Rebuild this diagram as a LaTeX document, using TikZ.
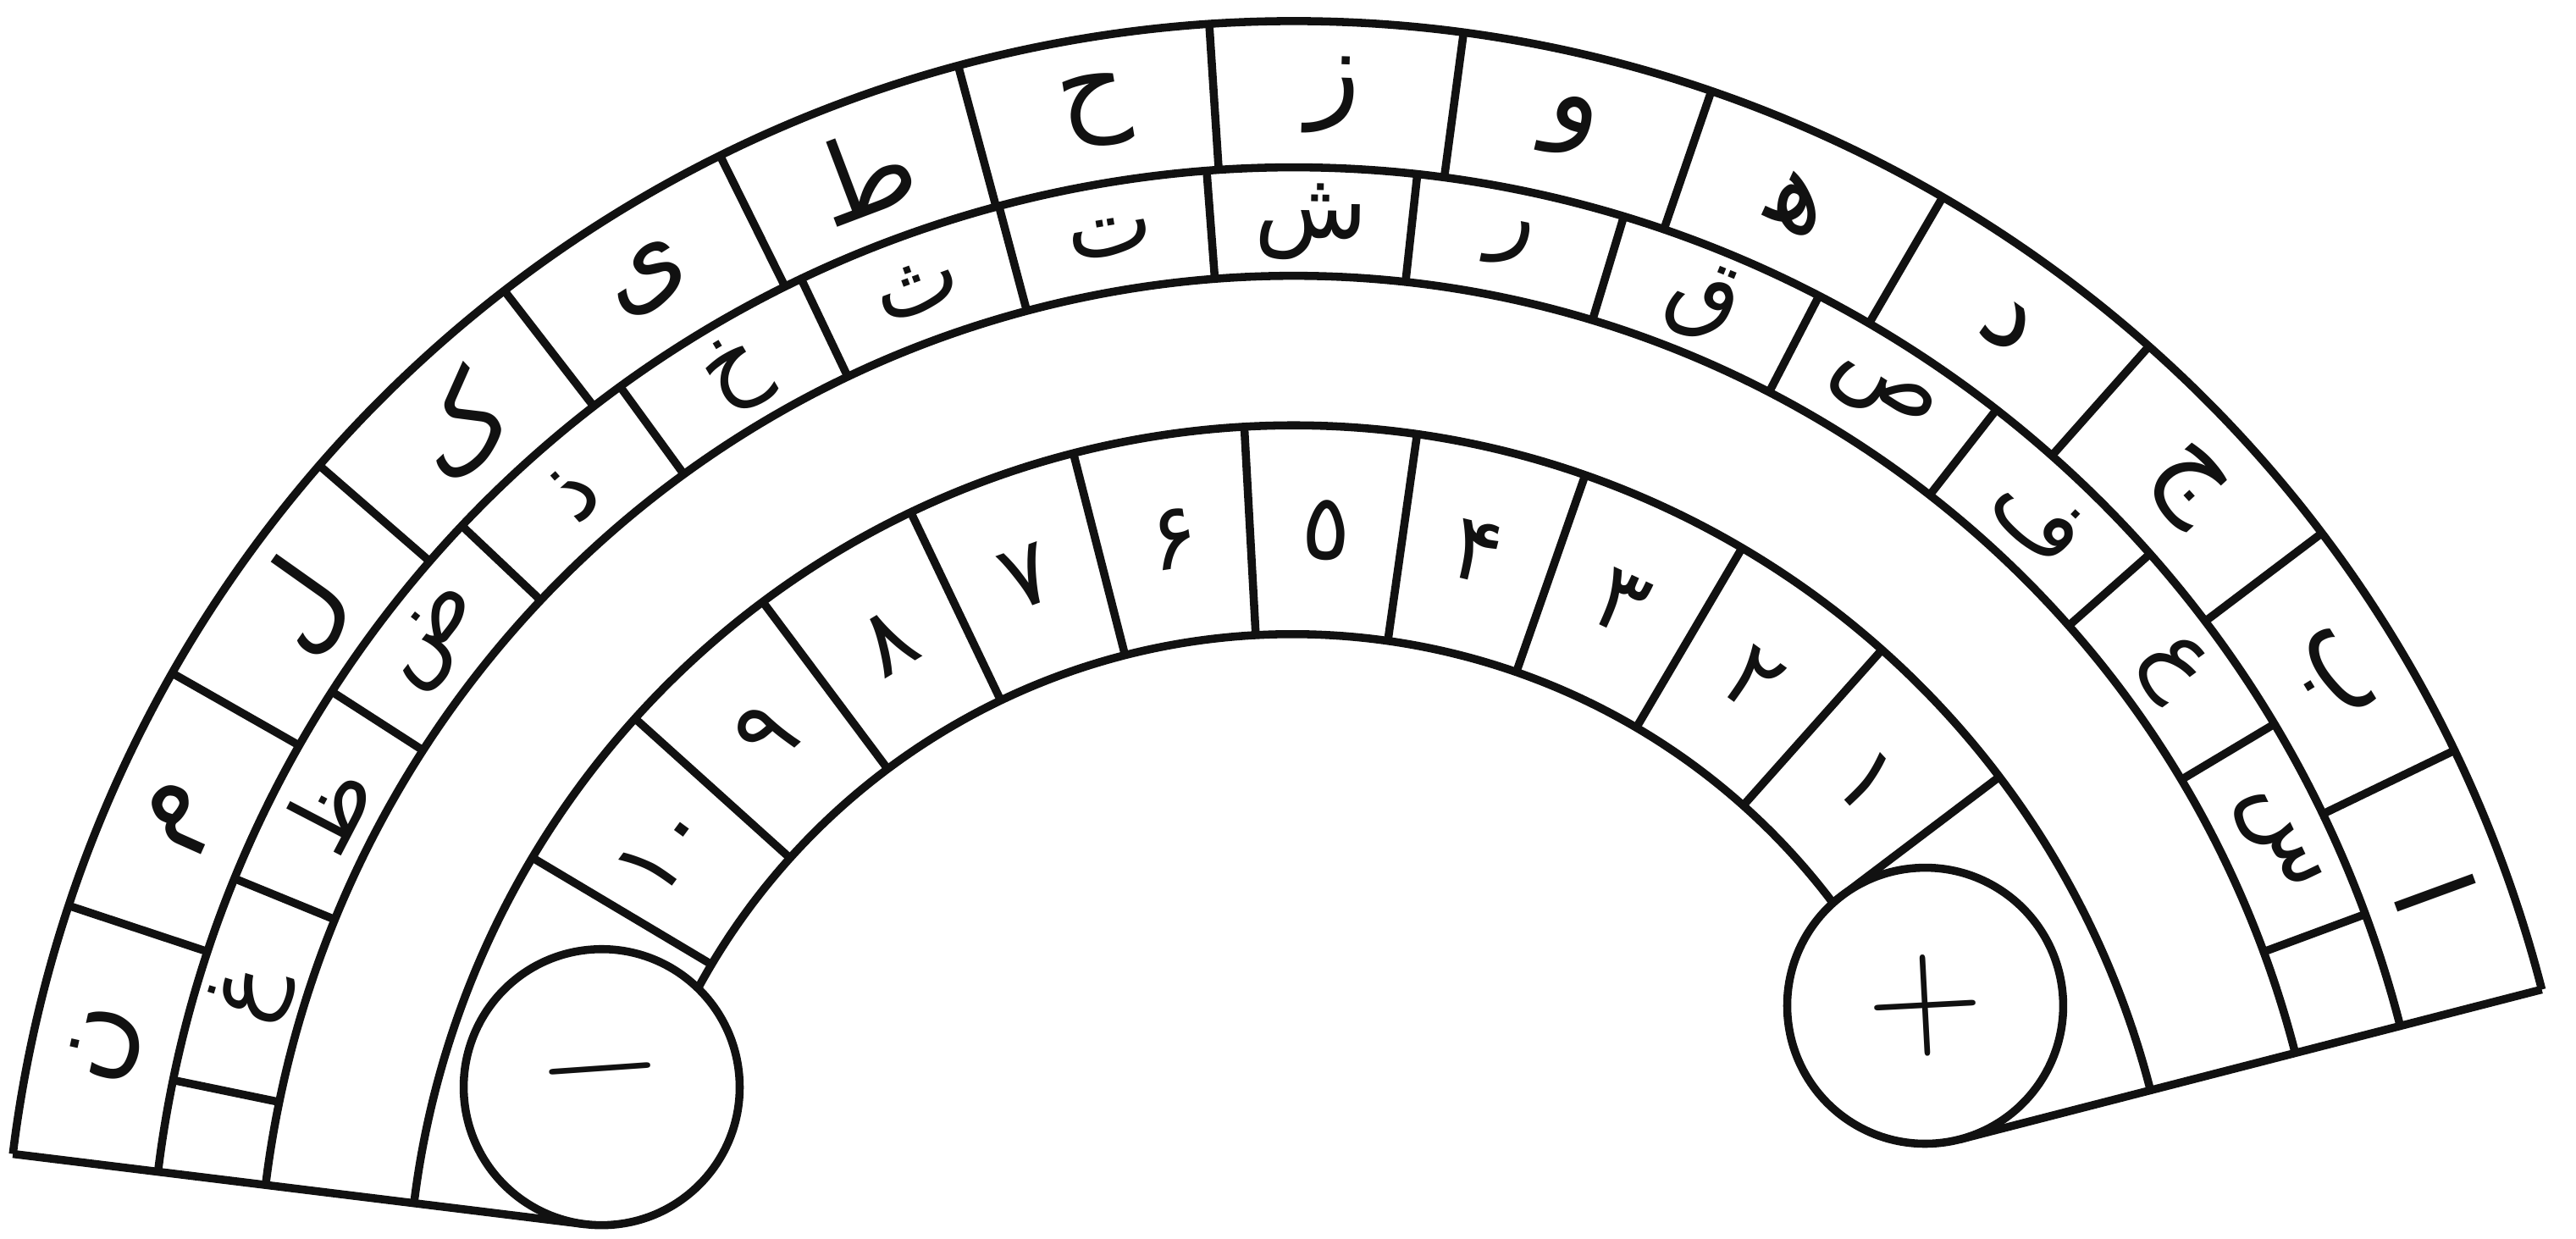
\documentclass[tikz,border=0pt]{standalone}
\usepackage{fontspec}
\usepackage{tikz}
\usetikzlibrary{positioning}
\TeXXeTstate=1
\newfontfamily\arabicfont[Script=Arabic]{DejaVu Sans}
\definecolor{ink}{HTML}{111111}
\newcommand{\harf}[1]{{\arabicfont\beginR #1\endR}}

\begin{document}
\begin{tikzpicture}[x=1cm,y=1cm,color=ink,line width=1.4pt,
  harfnode/.style={font=\fontsize{19}{22}\selectfont,inner sep=0pt},
  harfsmall/.style={font=\fontsize{16}{19}\selectfont,inner sep=0pt},
  adadnode/.style={font=\fontsize{16}{19}\selectfont,inner sep=0pt},
  signdisc/.style={circle,draw=ink,fill=white,line width=1.4pt,
    minimum size=1.68cm,inner sep=0pt,font=\fontsize{28}{30}\selectfont}]
\path[use as bounding box] (0,0) rectangle (15.68,7.54);
\begin{scope}[shift={(7.87,-0.44)}]
% Rings share one centre; the board runs from 14.44 to 173 degrees.
% Radii: letters 7.85--6.96 and 6.96--6.30, numbers 5.39--4.12.
\foreach \r in {7.85,6.96,6.30,5.39}
  \draw (14.44:\r) arc[start angle=14.44,end angle=173,radius=\r];
\draw (35:4.12) arc[start angle=35,end angle=154,radius=4.12];
\draw (173:7.85) -- (173:4.342);
\draw (14.44:7.85) -- (14.44:4.191);

% Outer ring: 14 cells of the abjad order, read from the right.
\foreach \k in {1,...,13}
  \draw ({14.44+\k*11.326}:6.96) -- ({14.44+\k*11.326}:7.85);
\foreach \h [count=\k from 0] in {ا,ب,ج,د,ه^^^^200d,و,ز,ح,ط,ی,ک,ل,م,ن}
  \node[harfnode,rotate={14.44+(\k+0.5)*11.326-90}] (kharij\k)
    at ({14.44+(\k+0.5)*11.326}:7.405) {\harf{\h}};

% Inner ring: the next 14 letters, with an empty cell at either end.
\foreach \k in {0,...,14}
  \draw ({20.31+\k*10.574}:6.30) -- ({20.31+\k*10.574}:6.96);
\foreach \h [count=\k from 0] in {س,ع,ف,ص,ق,ر,ش,ت,ث,خ,ذ,ض,ظ,غ}
  \node[harfsmall,rotate={20.31+(\k+0.5)*10.574-90}] (dakhil\k)
    at ({20.31+(\k+0.5)*10.574}:6.63) {\harf{\h}};

% Number ring between the two sign discs.
\foreach \k in {0,...,10}
  \draw ({37.1+\k*11.21}:4.12) -- ({37.1+\k*11.21}:5.39);
\foreach \n [count=\k from 0] in {۱,۲,۳,۴,٥,۶,۷,۸,۹,۱۰}
  \node[adadnode,rotate={37.1+(\k+0.5)*11.21-90}] (adad\k)
    at ({37.1+(\k+0.5)*11.21}:4.755) {\arabicfont \n};

\node[signdisc,rotate=4] (manfi) at (162.05:4.423) {−};
\node[signdisc,rotate=3] (mosbat) at (25.78:4.274) {+};
\end{scope}
\end{tikzpicture}
\end{document}
